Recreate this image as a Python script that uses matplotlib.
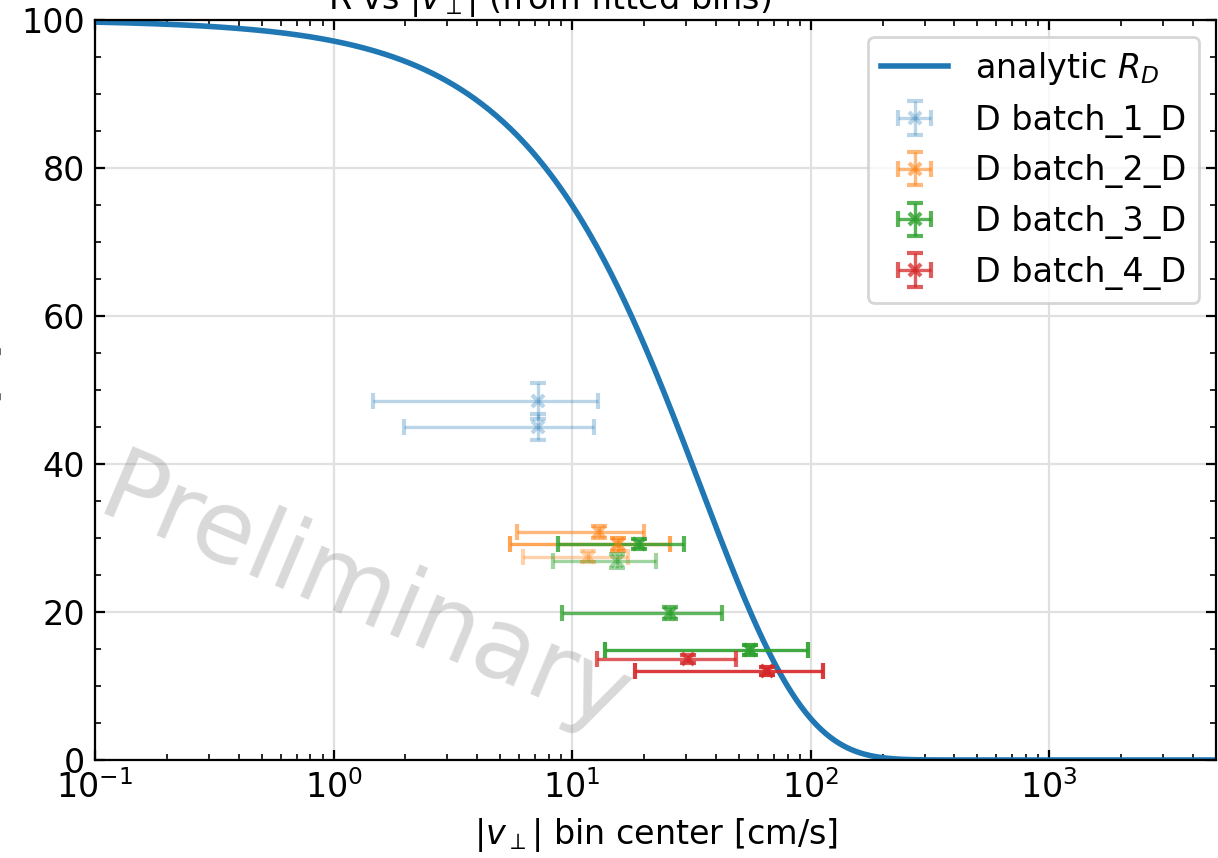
import numpy as np
import matplotlib
matplotlib.use('Agg')
import matplotlib.pyplot as plt
from matplotlib.ticker import AutoMinorLocator

# analytic curve parameter (decay velocity, cm/s)
V_DECAY = 34.7

BATCH_NAMES = ['D batch_1_D', 'D batch_2_D', 'D batch_3_D', 'D batch_4_D']
BATCH_COLORS = ['tab:blue', 'tab:orange', 'tab:green', 'tab:red']

# per batch: bin centers, R values, errors, point alpha
B1_V = [7.17, 7.17]
B1_R = [48.5, 45.0]
B1_VERR = [5.7, 5.2]
B1_RERR = [2.4, 1.7]
B1_ALPHA = [0.3, 0.3]

B2_V = [13.0, 15.6, 11.7]
B2_R = [30.8, 29.15, 27.5]
B2_VERR = [7.1, 10.1, 5.5]
B2_RERR = [0.8, 0.85, 0.7]
B2_ALPHA = [0.55, 0.7, 0.35]

B3_V = [19.1, 15.4, 25.7, 55.6]
B3_R = [29.15, 26.9, 19.9, 14.9]
B3_VERR = [10.4, 7.1, 16.6, 41.8]
B3_RERR = [0.7, 0.9, 0.8, 0.7]
B3_ALPHA = [0.8, 0.45, 0.75, 0.9]

B4_V = [30.7, 65.3]
B4_R = [13.65, 12.07]
B4_VERR = [18.0, 47.0]
B4_RERR = [0.6, 0.55]
B4_ALPHA = [0.75, 0.9]


def main():
    plt.rcParams['font.size'] = 12
    plt.rcParams['xtick.direction'] = 'in'
    plt.rcParams['ytick.direction'] = 'in'
    plt.rcParams['xtick.top'] = True
    plt.rcParams['ytick.right'] = True

    fig = plt.figure(figsize=(6.09, 4.29), dpi=200)
    ax = fig.add_axes([95 / 1218, 98 / 858, 1121 / 1218, 740 / 858])

    v = np.logspace(-1, np.log10(5000), 800)
    ax.plot(v, 100 * np.exp(-v / V_DECAY), color='tab:blue', lw=2, label=r'analytic $R_D$')

    batches = [
        (B1_V, B1_R, B1_VERR, B1_RERR, B1_ALPHA),
        (B2_V, B2_R, B2_VERR, B2_RERR, B2_ALPHA),
        (B3_V, B3_R, B3_VERR, B3_RERR, B3_ALPHA),
        (B4_V, B4_R, B4_VERR, B4_RERR, B4_ALPHA),
    ]
    for name, color, (bv, br, bverr, brerr, balpha) in zip(BATCH_NAMES, BATCH_COLORS, batches):
        for i in range(len(bv)):
            ax.errorbar(bv[i], br[i], xerr=bverr[i], yerr=brerr[i], fmt='x', ms=4, mew=1.5,
                        color=color, alpha=balpha[i], capsize=3, elinewidth=1.2, capthick=1.2,
                        label=name if i == 0 else None)

    ax.set_xscale('log')
    ax.set_xlim(0.1, 5000)
    ax.set_ylim(0, 100)
    ax.yaxis.set_minor_locator(AutoMinorLocator(4))
    ax.grid(True, which='major', color='0.88', lw=0.8)
    ax.set_axisbelow(True)

    ax.set_xlabel(r'$|v_\perp|$ bin center [cm/s]')
    ax.set_ylabel('R [%]')
    ax.yaxis.set_label_coords(-0.082, 0.5)
    fig.text(550 / 1218, 1 - 9 / 858, r'R vs $|v_\perp|$ (from fitted bins)',
             ha='center', va='baseline', fontsize=12)

    ax.text(0.24, 0.22, 'Preliminary', transform=ax.transAxes, fontsize=36,
            color='gray', alpha=0.3, rotation=-23, ha='center', va='center')

    ax.legend(loc='upper right')
    fig.savefig('out.png', dpi=200)


if __name__ == '__main__':
    main()
